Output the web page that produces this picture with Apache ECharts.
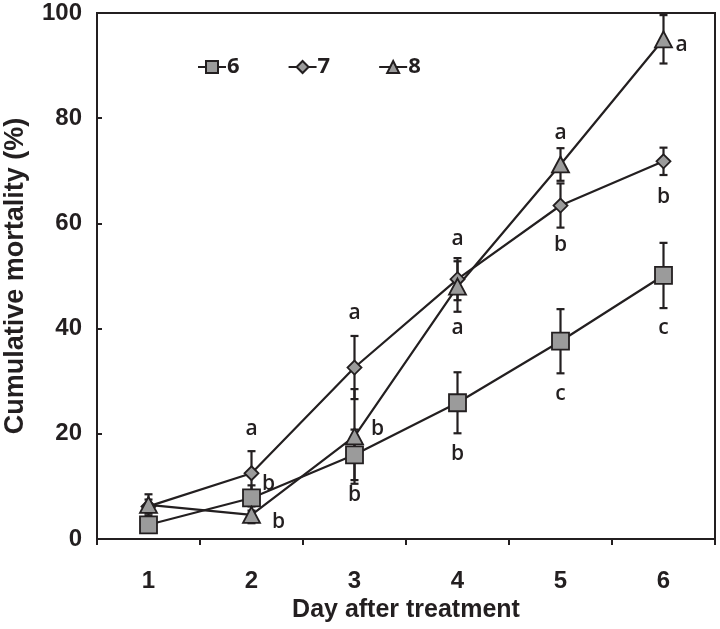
<!DOCTYPE html>
<html>
<head>
<meta charset="utf-8">
<script src="https://cdn.jsdelivr.net/npm/echarts@6/dist/echarts.min.js"></script>
<style>html,body{margin:0;padding:0;background:#fff;}#c{width:720px;height:629px;}</style>
</head>
<body>
<div id="c"></div>
<script>
var days = ['1', '2', '3', '4', '5', '6'];
var seriesNames = ['6', '7', '8'];
var mort6 = [2.7, 7.8, 16.0, 25.9, 37.6, 50.1];
var err6  = [1.0, 2.4, 4.8, 5.8, 6.1, 6.2];
var mort7 = [6.2, 12.5, 32.6, 49.4, 63.4, 71.8];
var err7  = [1.3, 4.2, 6.0, 4.0, 4.2, 2.6];
var mort8 = [6.5, 4.6, 19.5, 48.0, 71.2, 95.0];
var err8  = [2.0, 1.6, 9.0, 4.8, 3.1, 4.6];
var letters6 = ['', 'b', 'b', 'b', 'c', 'c'];
var letters7 = ['', 'a', 'a', 'a', 'b', 'b'];
var letters8 = ['', 'b', 'b', 'a', 'a', 'a'];
var yTicks = [0, 20, 40, 60, 80, 100];

var INK = '#231f20';
var FILL = '#9b9b9b';
var AXFONT = '"Liberation Sans", Arial, sans-serif';

// placement of significance letters: [anchor, dx, dy]; anchor: 'hi' (top of error bar), 'lo' (bottom), 'pt' (point)
var place6 = [null, ['pt', 17, -14], ['lo', 0, 15], ['lo', 0, 21], ['lo', 0, 21], ['lo', 0, 20]];
var place7 = [null, ['hi', 0, -22], ['hi', 0, -23], ['hi', 0, -19], ['lo', 0, 17], ['lo', 0, 22]];
var place8 = [null, ['pt', 27, 7], ['pt', 23, -7], ['lo', 0, 16], ['hi', 0, -15], ['pt', 18, 6]];

function errData(m, e) {
  return m.map(function (v, i) { return [i, v - e[i], v + e[i]]; });
}
function letterData(m, e, L, P) {
  var out = [];
  for (var i = 0; i < m.length; i++) {
    if (!L[i]) continue;
    var p = P[i];
    var y = p[0] === 'hi' ? m[i] + e[i] : (p[0] === 'lo' ? m[i] - e[i] : m[i]);
    out.push([i, y, L[i], p[1], p[2]]);
  }
  return out;
}

function errRender(params, api) {
  var x = api.value(0);
  var lo = api.coord([x, api.value(1)]);
  var hi = api.coord([x, api.value(2)]);
  var w = 4;
  var st = { stroke: INK, lineWidth: 2.2 };
  return {
    type: 'group',
    children: [
      { type: 'line', shape: { x1: lo[0], y1: lo[1], x2: hi[0], y2: hi[1] }, style: st },
      { type: 'line', shape: { x1: lo[0] - w, y1: lo[1], x2: lo[0] + w, y2: lo[1] }, style: st },
      { type: 'line', shape: { x1: hi[0] - w, y1: hi[1], x2: hi[0] + w, y2: hi[1] }, style: st }
    ]
  };
}
function letterRender(params, api) {
  var p = api.coord([api.value(0), api.value(1)]);
  return {
    type: 'text',
    style: {
      x: p[0] + api.value(3), y: p[1] + api.value(4),
      text: api.value(2),
      fill: INK,
      font: '600 21px "Open Sans", sans-serif',
      align: 'center', verticalAlign: 'middle'
    }
  };
}

function lineSeries(name, data, symbol, size) {
  return {
    name: name, type: 'line', data: data,
    symbol: symbol, symbolSize: size,
    lineStyle: { color: INK, width: 2.2 },
    itemStyle: { color: FILL, borderColor: INK, borderWidth: 1.8 },
    z: 5, animation: false
  };
}

var chart = echarts.init(document.getElementById('c'), null, { renderer: 'canvas' });
chart.setOption({
  animation: false,
  backgroundColor: '#fff',
  grid: { left: 97, right: 5, top: 13, bottom: 90, containLabel: false, outerBoundsMode: 'none',
          show: true, borderColor: INK, borderWidth: 2, backgroundColor: 'transparent' },
  legend: {
    left: 192, top: 51, itemWidth: 28, itemHeight: 15, itemGap: 48,
    data: seriesNames,
    textStyle: { color: INK, fontFamily: '"Open Sans", sans-serif', fontWeight: 700, fontSize: 22, padding: [0, 0, 0, -4] }
  },
  xAxis: {
    type: 'category', data: days, boundaryGap: true,
    name: 'Day after treatment', nameLocation: 'middle', nameGap: 58,
    nameTextStyle: { color: INK, fontFamily: AXFONT, fontWeight: 'bold', fontSize: 25 },
    axisLine: { lineStyle: { color: INK, width: 2 } },
    axisTick: { show: true, inside: false, length: 6, lineStyle: { color: INK, width: 2 } },
    axisLabel: { color: INK, fontFamily: AXFONT, fontWeight: 'bold', fontSize: 24, margin: 30 },
    splitLine: { show: false }
  },
  yAxis: {
    type: 'value', min: yTicks[0], max: yTicks[yTicks.length - 1], interval: yTicks[1] - yTicks[0],
    name: 'Cumulative mortality (%)', nameLocation: 'middle', nameGap: 68, nameRotate: 90,
    nameTextStyle: { color: INK, fontFamily: AXFONT, fontWeight: 'bold', fontSize: 27 },
    axisLine: { show: true, lineStyle: { color: INK, width: 2 } },
    axisTick: { show: true, inside: true, length: 5, lineStyle: { color: INK, width: 2 } },
    axisLabel: { color: INK, fontFamily: AXFONT, fontWeight: 'bold', fontSize: 24, margin: 15 },
    splitLine: { show: false }
  },
  series: [
    { type: 'custom', renderItem: errRender, data: errData(mort6, err6), z: 3, silent: true },
    { type: 'custom', renderItem: errRender, data: errData(mort7, err7), z: 3, silent: true },
    { type: 'custom', renderItem: errRender, data: errData(mort8, err8), z: 3, silent: true },
    lineSeries(seriesNames[0], mort6, 'rect', 17),
    lineSeries(seriesNames[1], mort7, 'diamond', [14, 14]),
    lineSeries(seriesNames[2], mort8, 'triangle', [17, 16]),
    { type: 'custom', renderItem: letterRender, data: letterData(mort6, err6, letters6, place6), z: 6, silent: true },
    { type: 'custom', renderItem: letterRender, data: letterData(mort7, err7, letters7, place7), z: 6, silent: true },
    { type: 'custom', renderItem: letterRender, data: letterData(mort8, err8, letters8, place8), z: 6, silent: true }
  ]
});
</script>
</body>
</html>
